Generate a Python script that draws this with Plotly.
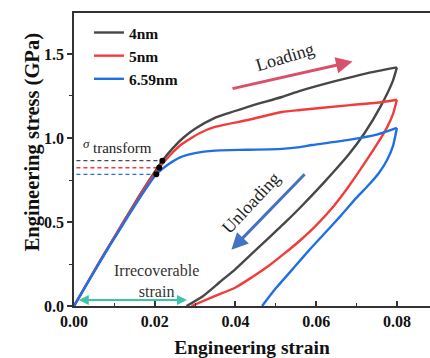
import plotly.graph_objects as go

# ---- data ----
series_names = ["4nm", "5nm", "6.59nm"]
series_colors = ["#474747", "#f23c3c", "#1f6fe5"]

# 4 nm : loading branch and unloading branch
load_4_strain = [0, 0.003, 0.006, 0.009, 0.012, 0.015, 0.018, 0.0219, 0.0245, 0.027, 0.030, 0.0349,
                 0.0431, 0.0515, 0.056, 0.0642, 0.0725, 0.080]
load_4_stress = [0, 0.125, 0.25, 0.37, 0.49, 0.61, 0.725, 0.865, 0.94, 1.0, 1.055, 1.12,
                 1.185, 1.244, 1.28, 1.335, 1.385, 1.42]
unload_4_strain = [0.080, 0.079, 0.076, 0.072, 0.068, 0.064, 0.060, 0.056, 0.052, 0.048, 0.044,
                   0.040, 0.036, 0.032, 0.0279]
unload_4_stress = [1.42, 1.34, 1.19, 1.03, 0.90, 0.79, 0.685, 0.585, 0.49, 0.40, 0.31,
                   0.22, 0.14, 0.06, 0.0]

# 5 nm
load_5_strain = [0, 0.003, 0.006, 0.009, 0.012, 0.015, 0.018, 0.0211, 0.0245, 0.0265, 0.0312, 0.0349,
                 0.0431, 0.0515, 0.056, 0.0684, 0.075, 0.080]
load_5_stress = [0, 0.125, 0.25, 0.37, 0.49, 0.605, 0.72, 0.823, 0.915, 0.96, 1.03, 1.066,
                 1.107, 1.155, 1.167, 1.196, 1.21, 1.228]
unload_5_strain = [0.080, 0.079, 0.0775, 0.075, 0.072, 0.068, 0.064, 0.060, 0.056, 0.052, 0.048,
                   0.044, 0.040, 0.035, 0.0291]
unload_5_stress = [1.228, 1.14, 1.06, 0.96, 0.85, 0.71, 0.585, 0.48, 0.39, 0.31, 0.235,
                   0.17, 0.11, 0.06, 0.0]

# 6.59 nm
load_659_strain = [0, 0.003, 0.006, 0.009, 0.012, 0.015, 0.018, 0.0204, 0.0235, 0.0263, 0.0300, 0.035,
                   0.043, 0.0515, 0.056, 0.059, 0.0684, 0.075, 0.080]
load_659_stress = [0, 0.123, 0.245, 0.365, 0.48, 0.595, 0.705, 0.784, 0.845, 0.885, 0.91, 0.925,
                   0.93, 0.935, 0.946, 0.958, 0.99, 1.02, 1.06]
unload_659_strain = [0.080, 0.079, 0.0775, 0.0755, 0.073, 0.070, 0.066, 0.062, 0.058, 0.054,
                     0.050, 0.0466]
unload_659_stress = [1.06, 0.95, 0.866, 0.79, 0.72, 0.645, 0.535, 0.43, 0.325, 0.215,
                     0.105, 0.0]

# transformation points (sigma_transform)
transform_strain = [0.0219, 0.0211, 0.0204]
transform_stress = [0.865, 0.823, 0.784]

x_ticks = [0.00, 0.02, 0.04, 0.06, 0.08]
y_ticks = [0.0, 0.5, 1.0, 1.5]

# ---- figure ----
SERIF = "Liberation Serif, Times New Roman, serif"
fig = go.Figure()

loads = [(load_4_strain, load_4_stress), (load_5_strain, load_5_stress), (load_659_strain, load_659_stress)]
unloads = [(unload_4_strain, unload_4_stress), (unload_5_strain, unload_5_stress),
           (unload_659_strain, unload_659_stress)]

# dashed guide lines first (behind curves)
for i in range(3):
    fig.add_trace(go.Scatter(x=[0.0006, transform_strain[i]], y=[transform_stress[i]] * 2,
                             mode="lines", line=dict(color=series_colors[i], width=1.3, dash="4px,3px"),
                             showlegend=False, hoverinfo="skip"))
for i in range(3):
    xs, ys = loads[i]
    fig.add_trace(go.Scatter(x=xs, y=ys, mode="lines", name=series_names[i], legendgroup=series_names[i],
                             line=dict(color=series_colors[i], width=2.4, shape="spline", smoothing=0.6)))
    xs, ys = unloads[i]
    fig.add_trace(go.Scatter(x=xs, y=ys, mode="lines", name=series_names[i], legendgroup=series_names[i],
                             showlegend=False,
                             line=dict(color=series_colors[i], width=2.4, shape="spline", smoothing=0.6)))
fig.add_trace(go.Scatter(x=transform_strain, y=transform_stress, mode="markers",
                         marker=dict(color="black", size=6), showlegend=False))

axis_line = "#333333"
fig.update_xaxes(range=[0, 0.0882], tickvals=x_ticks, tickformat=".2f",
                 showline=True, linecolor=axis_line, linewidth=1.8, mirror=True,
                 ticks="inside", ticklen=5, tickwidth=1.5, tickcolor=axis_line,
                 minor=dict(dtick=0.01, tick0=0, ticks="inside", ticklen=3, tickwidth=1.3, tickcolor=axis_line),
                 showgrid=False, zeroline=False,
                 tickfont=dict(family=SERIF, size=16, color="#111", weight="bold"),
                 title=dict(text="Engineering strain", standoff=14,
                            font=dict(family=SERIF, size=19.5, color="#111", weight="bold")))
fig.update_yaxes(range=[0, 1.744], tickvals=y_ticks, tickformat=".1f",
                 showline=True, linecolor=axis_line, linewidth=1.8, mirror=False,
                 ticks="outside", ticklen=5, tickwidth=1.5, tickcolor=axis_line,
                 minor=dict(dtick=0.25, tick0=0, ticks="outside", ticklen=3, tickwidth=1.3, tickcolor=axis_line),
                 showgrid=False, zeroline=False,
                 tickfont=dict(family=SERIF, size=16, color="#111", weight="bold"))

anns = [
    # y axis title
    dict(x=-0.152, y=0.56, xref="paper", yref="paper", text="<b>Engineering stress (GPa)</b>",
         showarrow=False, textangle=-90,
         font=dict(family=SERIF, size=20.5, color="#111")),
    # Loading arrow + label
    dict(x=0.0690, y=1.455, ax=0.0389, ay=1.292, xref="x", yref="y", axref="x", ayref="y",
         showarrow=True, arrowhead=2, arrowsize=1.1, arrowwidth=3, arrowcolor="#d9506a", text=""),
    dict(x=0.0523, y=1.482, text="Loading", showarrow=False, textangle=-17,
         font=dict(family=SERIF, size=18, color="#222")),
    # Unloading arrow + label
    dict(x=0.0390, y=0.335, ax=0.0575, ay=0.793, xref="x", yref="y", axref="x", ayref="y",
         showarrow=True, arrowhead=2, arrowsize=1.1, arrowwidth=3, arrowcolor="#4472c4", text=""),
    dict(x=0.0438, y=0.613, text="Unloading", showarrow=False, textangle=-47,
         font=dict(family=SERIF, size=18, color="#222")),
    # irrecoverable strain double arrow
    dict(x=0.0280, y=0.036, ax=0.0008, ay=0.036, xref="x", yref="y", axref="x", ayref="y",
         showarrow=True, arrowhead=2, startarrowhead=2, arrowside="end+start", arrowsize=1,
         startarrowsize=1, arrowwidth=2, arrowcolor="#3cc4a8", text=""),
    dict(x=0.0204, y=0.149, text="Irrecoverable<br>strain", showarrow=False,
         font=dict(family=SERIF, size=16, color="#333")),
    # sigma transform label
    dict(x=0.0032, y=0.968, text="<i>σ</i>", showarrow=False,
         font=dict(family=SERIF, size=13, color="#222")),
    dict(x=0.0121, y=0.94, text="transform", showarrow=False,
         font=dict(family=SERIF, size=15, color="#222")),
]
for a in anns:
    a.setdefault("xref", "x")
    a.setdefault("yref", "y")
    fig.add_annotation(**a)

fig.update_layout(
    width=430, height=358,
    margin=dict(l=74, r=0, t=13, b=52),
    paper_bgcolor="white", plot_bgcolor="white",
    legend=dict(x=0.042, y=0.99, xanchor="left", yanchor="top", bgcolor="rgba(0,0,0,0)",
                font=dict(family=SERIF, size=15.5, color="#111", weight="bold"),
                tracegroupgap=0, itemwidth=30),
    showlegend=True,
)

fig.write_html("out.html")
